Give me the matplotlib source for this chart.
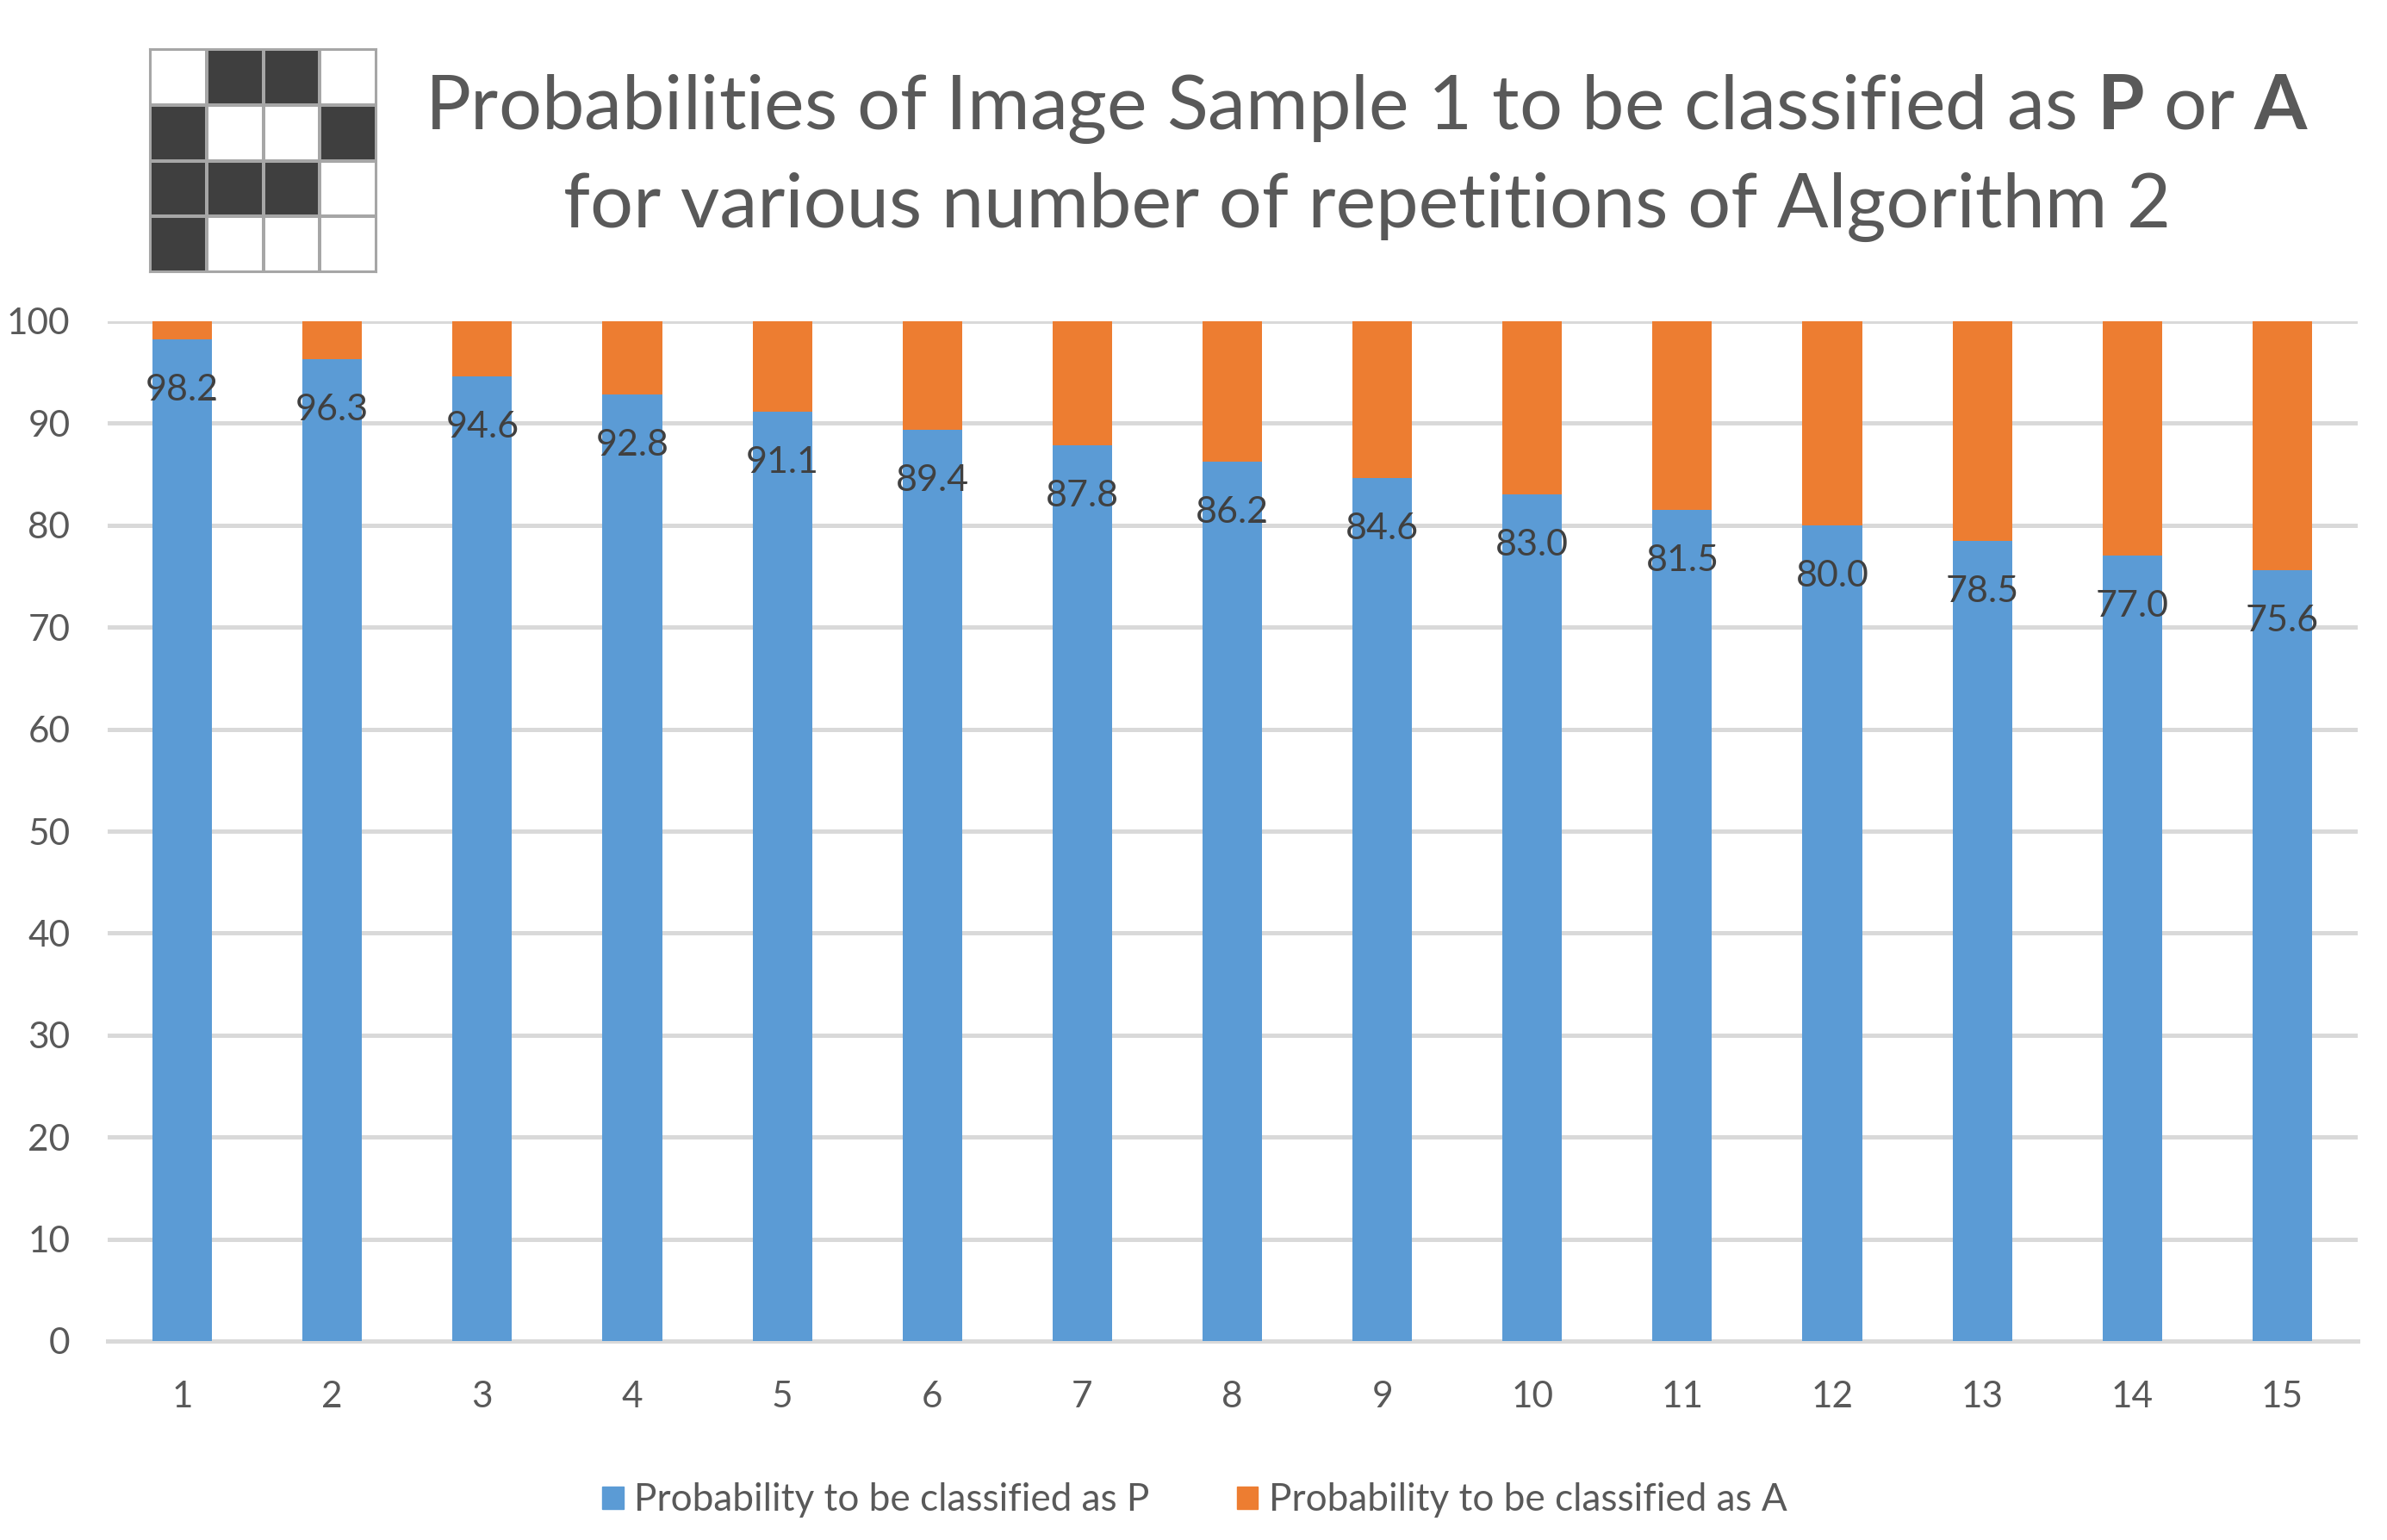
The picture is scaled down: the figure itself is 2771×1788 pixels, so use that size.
### Imports
import numpy as np
from matplotlib import pyplot as plt
from matplotlib.patches import Patch

plt.rcParams['font.family'] = ['Lato', 'DejaVu Sans']
plt.rcParams['mathtext.fontset'] = 'custom'
plt.rcParams['mathtext.bf'] = 'Lato:bold'
plt.rcParams['mathtext.rm'] = 'Lato'

# ----------------------------------------------------------------------------

repetitions = [1, 2, 3, 4, 5, 6, 7, 8, 9, 10, 11, 12, 13, 14, 15]
prob_p = [98.2, 96.3, 94.6, 92.8, 91.1, 89.4, 87.8, 86.2, 84.6, 83.0, 81.5, 80.0, 78.5, 77.0, 75.6]
prob_a = [1.8, 3.7, 5.4, 7.2, 8.9, 10.6, 12.2, 13.8, 15.4, 17.0, 18.5, 20.0, 21.5, 23.0, 24.4]
y_ticks = [0, 10, 20, 30, 40, 50, 60, 70, 80, 90, 100]
label_p = 'Probability to be classified as P'
label_a = 'Probability to be classified as A'
title_1 = r'Probabilities of Image Sample 1 to be classified as $\mathbf{P}$ or $\mathbf{A}$'
title_2 = 'for various number of repetitions of Algorithm 2'

# The 4x4 sample image, 1 is a black cell
sample = [[0, 1, 1, 0],
          [1, 0, 0, 1],
          [1, 1, 1, 0],
          [1, 0, 0, 0]]

W, H = 2771, 1788
BLUE = '#5B9BD5'
ORANGE = '#ED7D31'
GREY = '#595959'

# ----------------------------------------------------------------------------

fig = plt.figure(figsize=(W/100, H/100), dpi=100)

# Main axes, placed in pixels
ax = fig.add_axes([124.5/W, 1-1557/H, (2736.5-124.5)/W, (1557-373)/H])
ax.bar(repetitions, prob_p, width=0.397, color=BLUE, zorder=3)
ax.bar(repetitions, prob_a, width=0.397, bottom=prob_p, color=ORANGE, zorder=3)

for x, p in zip(repetitions, prob_p):
    ax.annotate('%.1f' % p, (x, p), xytext=(0, -59/100*72), textcoords='offset points',
                ha='center', va='center', fontsize=31, color='#404040', zorder=4)
###x

ax.set_xlim(0.5, 15.5)
ax.set_ylim(0, 100)
ax.set_yticks(y_ticks)
ax.set_xticks(repetitions)
ax.grid(axis='y', color='#D9D9D9', lw=3.6, zorder=0)
ax.tick_params(axis='both', length=0, labelsize=30.5, labelcolor=GREY)
ax.tick_params(axis='y', pad=31)
ax.tick_params(axis='x', pad=33)
for side in ['top', 'right', 'left']:
    ax.spines[side].set_visible(False)
ax.spines['bottom'].set_color('#D9D9D9')
ax.spines['bottom'].set_linewidth(3.6)
ax.set_axisbelow(True)

# Title
fig.text(1587/W, 1-127/H, title_1, ha='center', va='center', fontsize=63.5, color=GREY)
fig.text(1587/W, 1-240/H, title_2, ha='center', va='center', fontsize=63.5, color=GREY)

# Sample image
ax_img = fig.add_axes([174/W, 1-316/H, (437-174)/W, (316-57)/H])
ax_img.pcolormesh(np.array(sample)[::-1], cmap='gray_r', vmin=0, vmax=1.33,
                  edgecolors='#A6A6A6', linewidth=1.5)
ax_img.set_xticks([])
ax_img.set_yticks([])
for spine in ax_img.spines.values():
    spine.set_color('#A6A6A6')
    spine.set_linewidth(1.5)

# Legend
handles = [Patch(color=BLUE, label=label_p), Patch(color=ORANGE, label=label_a)]
fig.legend(handles=handles, loc='center', bbox_to_anchor=(1387/W, 1-1742/H), ncol=2,
           frameon=False, fontsize=31.8, labelcolor=GREY, handlelength=0.55, handleheight=0.55,
           handletextpad=0.28, columnspacing=2.3)

fig.savefig('out.png', dpi=100)
